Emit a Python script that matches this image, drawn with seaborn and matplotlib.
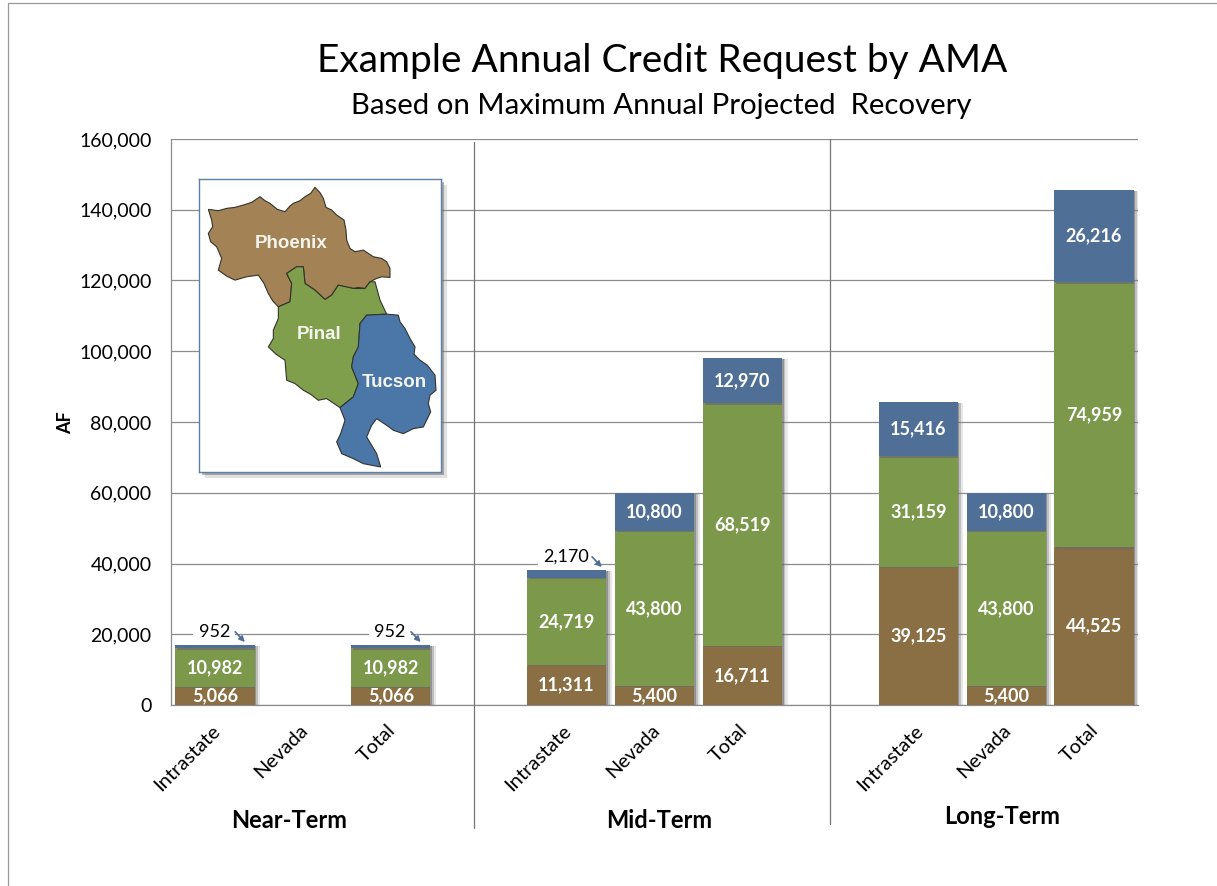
# Example Annual Credit Request by AMA
import pandas as pd
import matplotlib.pyplot as plt
import matplotlib.patheffects as pe
from matplotlib.lines import Line2D
from matplotlib.transforms import ScaledTranslation
import seaborn as sns

# -----------------------------
# Data
# -----------------------------
slots = ["n1", "n2", "n3", "gap1", "m1", "m2", "m3", "gap2", "l1", "l2", "l3"]
tick_labels = ["Intrastate", "Nevada", "Total", "",
               "Intrastate", "Nevada", "Total", "",
               "Intrastate", "Nevada", "Total"]

bar_slots = ["n1", "n3", "m1", "m2", "m3", "l1", "l2", "l3"]
phoenix = [5066, 5066, 11311, 5400, 16711, 39125, 5400, 44525]
pinal = [10982, 10982, 24719, 43800, 68519, 31159, 43800, 74959]
tucson = [952, 952, 2170, 10800, 12970, 15416, 10800, 26216]

y_ticks = [0, 20000, 40000, 60000, 80000, 100000, 120000, 140000, 160000]

# map outlines
phoenix_shape = [(55, 118), (85, 122), (110, 115), (135, 112), (160, 105), (185, 97), (210, 80), (225, 92),
                 (240, 100), (262, 118), (285, 125), (300, 108), (310, 100), (330, 92), (345, 80), (362, 70),
                 (375, 52), (390, 68), (400, 85), (408, 112), (425, 120), (440, 135), (462, 150), (468, 180),
                 (470, 210), (480, 235), (495, 245), (520, 240), (550, 260), (575, 265), (590, 275), (600, 295),
                 (600, 322), (575, 320), (560, 325), (540, 335), (525, 355), (505, 352), (490, 355), (465, 350),
                 (445, 345), (425, 375), (405, 388), (388, 372), (375, 360), (345, 340), (340, 290), (320, 290),
                 (290, 310), (305, 340), (300, 395), (265, 410), (248, 392), (235, 370), (222, 340), (205, 315),
                 (170, 320), (135, 330), (110, 318), (85, 300), (95, 265), (80, 230), (62, 215), (55, 190),
                 (68, 170), (65, 150)]
pinal_shape = [(290, 310), (320, 290), (340, 290), (345, 340), (375, 360), (405, 388), (425, 375),
               (445, 345), (490, 355), (525, 355), (540, 335), (555, 335), (570, 390), (590, 432),
               (530, 435), (510, 460), (505, 530), (490, 560), (485, 590), (505, 640), (490, 680),
               (450, 712), (410, 685), (385, 690), (362, 672), (340, 660), (315, 640), (290, 630),
               (285, 570), (258, 552), (235, 530), (250, 505), (250, 480), (265, 445), (265, 410),
               (300, 395), (305, 340)]
tucson_shape = [(530, 435), (590, 432), (625, 435), (630, 455), (645, 475), (660, 505), (675, 530), (672, 552),
                (690, 570), (712, 585), (735, 615), (738, 660), (720, 675), (715, 700), (722, 725), (700, 770),
                (670, 775), (640, 790), (610, 780), (590, 765), (560, 745), (545, 765), (530, 800), (545, 825),
                (560, 850), (572, 890), (520, 880), (490, 865), (455, 850), (440, 815), (452, 790), (465, 750),
                (450, 712), (490, 680), (505, 640), (485, 590), (490, 560), (505, 530), (510, 460)]

# -----------------------------
# Style
# -----------------------------
BROWN = "#896f43"
GREEN = "#7c984b"
BLUE = "#4f6f96"
GRID = "#8c8c8c"
W, H = 1217, 886

sns.set_theme(style="white")
plt.rcParams["font.family"] = ["Lato", "DejaVu Sans"]
plt.rcParams["text.color"] = "black"

fig = plt.figure(figsize=(W / 100, H / 100), dpi=100)


def px_box(x0, y0, x1, y1):
    return [x0 / W, 1 - y1 / H, (x1 - x0) / W, (y1 - y0) / H]


ax = fig.add_axes(px_box(171, 139, 1138, 705))

df = pd.DataFrame({"slot": bar_slots, "phoenix": phoenix, "pinal": pinal, "tucson": tucson})
df["pinal_base"] = df["phoenix"]
df["tucson_base"] = df["phoenix"] + df["pinal"]

shadow = [pe.SimplePatchShadow(offset=(4, -1), shadow_rgbFace="#888888", alpha=0.2),
          pe.SimplePatchShadow(offset=(2.5, -1), shadow_rgbFace="#777777", alpha=0.35),
          pe.SimplePatchShadow(offset=(1.2, -1), shadow_rgbFace="#666666", alpha=0.5),
          pe.Normal()]

# -----------------------------
# Stacked bars
# -----------------------------
layers = [("phoenix", BROWN, 0), ("pinal", GREEN, df["pinal_base"].values),
          ("tucson", BLUE, df["tucson_base"].values)]
for name, colour, base in layers:
    sns.barplot(data=df, x="slot", y=name, order=slots, color=colour, saturation=1,
                width=0.9, errorbar=None, bottom=base, linewidth=0, ax=ax, zorder=3)

for container, (name, colour, base) in zip(ax.containers, layers):
    for bar in container:
        bar.set_path_effects(shadow)
    labels = [f"{v:,}" if v > 3000 else "" for v in df[name]]
    ax.bar_label(container, labels=labels, label_type="center", color="white",
                 fontsize=13, fontweight="bold", zorder=5)

# small tucson values get a callout above the bar
for _, row in df[df["tucson"] < 3000].iterrows():
    pos = slots.index(row["slot"])
    top = row["tucson_base"] + row["tucson"]
    text = f"{row['tucson']:,}"
    ax.annotate(text, xy=(pos, top), xytext=(-0.5, 9.5), textcoords="offset points",
                ha="center", va="center", fontsize=13, color="black", zorder=4,
                bbox=dict(boxstyle="square,pad=0.3", fc="white", ec="none"))
    shift = 0.06 if len(text) > 3 else 0
    ax.annotate("", xy=(pos + 0.34 + shift, top + 800), xytext=(pos + 0.23 + shift, top + 3700),
                arrowprops=dict(arrowstyle="-|>", color=BLUE, lw=1.2, mutation_scale=8,
                                shrinkA=0, shrinkB=0), zorder=5)

# -----------------------------
# Axes
# -----------------------------
ax.set_xlim(-0.5, 10.5)
ax.set_ylim(0, 160000)
ax.set_yticks(y_ticks)
ax.set_yticklabels([f"{t:,}" for t in y_ticks], fontsize=14, color="black")
ax.set_xticks(range(len(slots)))
ax.set_xticklabels(tick_labels, rotation=45, ha="right", rotation_mode="anchor",
                   fontsize=14.5, color="black")
ax.tick_params(axis="y", length=0, pad=14)
ax.tick_params(axis="x", length=0, pad=12)
for label in ax.get_xticklabels():
    label.set_transform(label.get_transform() + ScaledTranslation(-4 / 100, 0, fig.dpi_scale_trans))
ax.set_xlabel("")
ax.set_ylabel("")
ax.yaxis.grid(True, color=GRID, lw=0.9, zorder=1)
ax.set_axisbelow(True)
for side in ["top", "right"]:
    ax.spines[side].set_visible(False)
for side in ["left", "bottom"]:
    ax.spines[side].set_color(GRID)
    ax.spines[side].set_linewidth(0.9)
ax.spines["left"].set_zorder(1)


def fig_line(xs, ys, colour="#757575", lw=0.9):
    fig.add_artist(Line2D([x / W for x in xs], [1 - y / H for y in ys], color=colour, lw=lw))


# term dividers and outer frame
fig_line([474, 474], [142, 828])
fig_line([830, 830], [139, 824])
fig_line([7.5, 7.5], [3, 886], colour="#9a9a9a")
fig_line([7.5, 1217], [3, 3], colour="#9a9a9a")

# -----------------------------
# Text
# -----------------------------
fig.text(662 / W, 1 - 61 / H, "Example Annual Credit Request by AMA", ha="center", va="center", fontsize=28)
fig.text(661 / W, 1 - 106 / H, "Based on Maximum Annual Projected  Recovery", ha="center", va="center", fontsize=21.2)
fig.text(66 / W, 1 - 423 / H, "AF", rotation=90, ha="center", va="center", fontsize=13, fontweight="bold")
fig.text(289 / W, 1 - 821 / H, "Near-Term", ha="center", va="center", fontsize=17, fontweight="bold")
fig.text(659 / W, 1 - 821 / H, "Mid-Term", ha="center", va="center", fontsize=17, fontweight="bold")
fig.text(1002 / W, 1 - 817 / H, "Long-Term", ha="center", va="center", fontsize=17, fontweight="bold")

# -----------------------------
# Map inset
# -----------------------------
inset = fig.add_axes(px_box(199, 179, 441, 472), facecolor="white")
inset.set_xlim(27, 753)
inset.set_ylim(905, 27)
inset.set_xticks([])
inset.set_yticks([])
inset.patch.set_path_effects([pe.SimplePatchShadow(offset=(4, -4), shadow_rgbFace="#999999", alpha=0.3),
                              pe.SimplePatchShadow(offset=(2.5, -2.5), shadow_rgbFace="#666666", alpha=0.5),
                              pe.Normal()])
for side in inset.spines.values():
    side.set_color("#5a7fa8")
    side.set_linewidth(1.0)

for shape, colour in [(phoenix_shape, "#a38255"), (pinal_shape, "#7f9f4c"), (tucson_shape, "#4a76a8")]:
    inset.fill([p[0] for p in shape], [p[1] for p in shape], facecolor=colour,
               edgecolor="#33332c", linewidth=0.8)

for label, x, y in [("Phoenix", 303, 220), ("Pinal", 388, 492), ("Tucson", 612, 636)]:
    inset.text(x, y, label, ha="center", va="center", color="#f4f4ec", fontsize=13.5,
               fontweight="bold", family=["Liberation Sans", "DejaVu Sans"])

fig.savefig("out.png", dpi=100)
